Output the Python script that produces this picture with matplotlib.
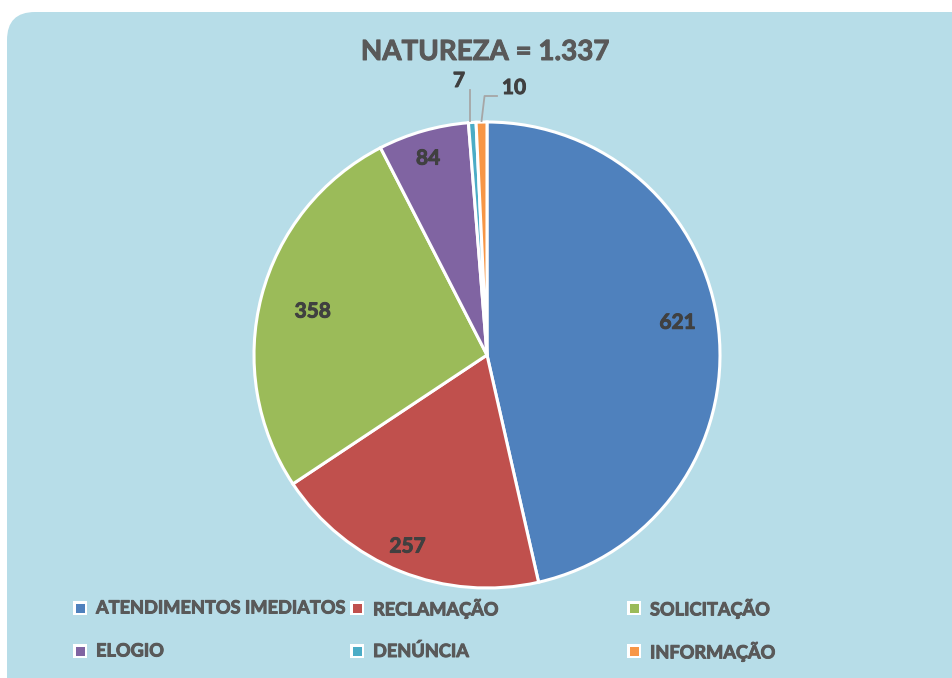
import numpy as np
import matplotlib
matplotlib.use("Agg")
import matplotlib.pyplot as plt
import matplotlib.patheffects as pe
from matplotlib.patches import FancyBboxPatch, Rectangle

categories = ["ATENDIMENTOS IMEDIATOS", "RECLAMAÇÃO", "SOLICITAÇÃO", "ELOGIO", "DENÚNCIA", "INFORMAÇÃO"]
values = [621, 257, 358, 84, 7, 10]
colors = ["#4F81BD", "#C0504D", "#9BBB59", "#8064A2", "#4BACC6", "#F79646"]
title = "NATUREZA = 1.337"

W, H = 952, 678
fig = plt.figure(figsize=(W / 100, H / 100), dpi=100)
fig.patch.set_facecolor("white")
ax = fig.add_axes([0, 0, 1, 1])

FONT = "Lato"
WEIGHT = "bold"
TXT = "#595959"
LBL = "#404040"

def heavy(c):
    return [pe.withStroke(linewidth=0.7, foreground=c)]

bg = FancyBboxPatch((7, -40), W + 40, H - 12 + 40, boxstyle="round,pad=0,rounding_size=28",
                    facecolor="#B7DDE8", edgecolor="none", zorder=0)
ax.add_patch(bg)

cx, cy, R = 487, H - 355, 233
wedges, _ = ax.pie(values, colors=colors, startangle=90, counterclock=False,
                   center=(cx, cy), radius=R, frame=True,
                   wedgeprops=dict(edgecolor="white", linewidth=2.2))
ax.set_xlim(0, W)
ax.set_ylim(0, H)
ax.set_aspect("equal")
ax.axis("off")

# inside labels (radial fraction, angular offset in degrees)
fracs = [0.83, 0.89, 0.77, 0.88]
offs = [3.2, -0.7, 0.6, 0.8]
for w, v, f, o in zip(wedges[:4], values[:4], fracs, offs):
    ang = np.deg2rad((w.theta1 + w.theta2) / 2 + o)
    ax.text(cx + f * R * np.cos(ang), cy + f * R * np.sin(ang), str(v),
            ha="center", va="center", fontsize=15, fontweight=WEIGHT,
            color=LBL, family=FONT, zorder=5, path_effects=heavy(LBL))

# outside labels with leader lines
lc = "#A6A6A6"
w7 = wedges[4]
a7 = np.deg2rad((w7.theta1 + w7.theta2) / 2)
x7, y7 = cx + R * np.cos(a7), cy + R * np.sin(a7)
ax.plot([x7 - 2, x7 - 2], [y7 + 1, H - 90], color=lc, lw=1.3, zorder=4)
ax.text(459, H - 81, str(values[4]), ha="center", va="center", fontsize=15,
        fontweight=WEIGHT, color=LBL, family=FONT, path_effects=heavy(LBL))

w10 = wedges[5]
a10 = np.deg2rad((w10.theta1 + w10.theta2) / 2)
x10, y10 = cx + R * np.cos(a10), cy + R * np.sin(a10)
ax.plot([x10, x10 + 3, 497], [y10 + 1, H - 96, H - 96], color=lc, lw=1.3, zorder=4)
ax.text(514, H - 88, str(values[5]), ha="center", va="center", fontsize=15,
        fontweight=WEIGHT, color=LBL, family=FONT, path_effects=heavy(LBL))

ax.text(485, H - 52, title, ha="center", va="center", fontsize=20,
        fontweight=WEIGHT, color=TXT, family=FONT, path_effects=heavy(TXT))

# legend
cols = [80, 357, 634]
rows = [H - 608, H - 651]
for i, (c, col) in enumerate(zip(categories, colors)):
    x = cols[i % 3]
    y = rows[i // 3]
    ax.add_patch(Rectangle((x - 7, y - 7), 14, 14, facecolor="white", edgecolor="none", zorder=5))
    ax.add_patch(Rectangle((x - 4.5, y - 4.5), 9, 9, facecolor=col, edgecolor="none", zorder=6))
    ax.text(x + 16, y, c, ha="left", va="center", fontsize=13.1, fontweight=WEIGHT,
            color=TXT, family=FONT, zorder=6, path_effects=heavy(TXT))

fig.savefig("out.png", dpi=100, facecolor="white")
